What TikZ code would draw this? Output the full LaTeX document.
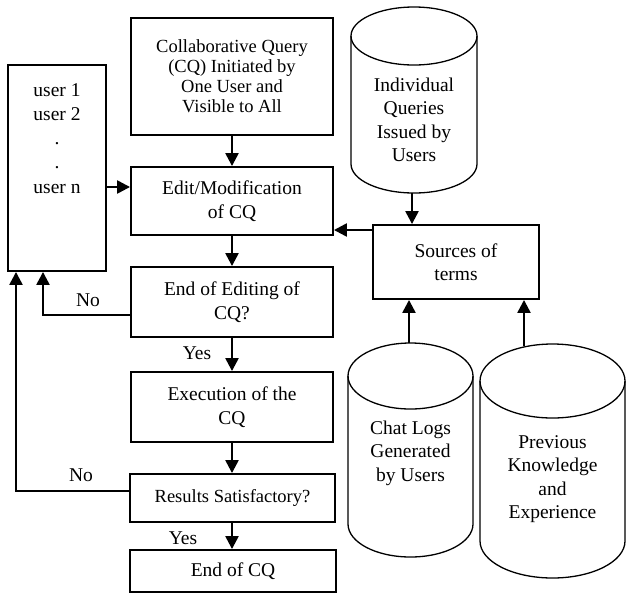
\documentclass[tikz,border=0pt]{standalone}
\usepackage{fontspec}
\setmainfont{Liberation Serif}
\newfontfamily\tnr{Liberation Serif}
\usetikzlibrary{arrows.meta}
\begin{document}
\begin{tikzpicture}[x=1pt,y=-1pt,
  txt/.style={font=\tnr\fontsize{19.5}{23.5}\selectfont},
  box/.style={draw, line width=1.9pt, align=center, inner sep=0pt, txt},
  arr/.style={line width=2.4pt, -{Triangle[width=13pt,length=13pt]}},
  lbl/.style={inner sep=0pt, txt},
  cyl/.style={line width=1.3pt},
  cyltext/.style={align=center, inner sep=0pt, txt}]
\useasboundingbox (0,0) rectangle (626,595);

% boxes
\node[box, minimum width=98pt, minimum height=206pt] (users) at (57,168) {};
\node[lbl, align=center, anchor=north, font=\tnr\fontsize{19.5}{24.3}\selectfont] (userstext) at (57,83) {user 1\\user 2\\.\\.\\user n};
\node[box, minimum width=202pt, minimum height=117pt, font=\tnr\fontsize{18.5}{20}\selectfont] (cq) at (232,76.5)
  {Collaborative Query\\(CQ) Initiated by\\One User and\\Visible to All};
\node[box, minimum width=202pt, minimum height=68pt] (edit) at (232,201) {Edit/Modification\\of CQ};
\node[box, minimum width=202pt, minimum height=70pt] (endedit) at (232,302) {End of Editing of\\CQ?};
\node[box, minimum width=202pt, minimum height=70pt] (exec) at (232,407) {Execution of the\\CQ};
\node[box, minimum width=205pt, minimum height=48pt, font=\tnr\fontsize{18.5}{22}\selectfont] (results) at (232.5,498) {Results Satisfactory?};
\node[box, minimum width=206pt, minimum height=42pt] (endcq) at (233,571) {End of CQ};
\node[box, minimum width=166pt, minimum height=74pt] (sources) at (456,262) {Sources of\\terms};

% cylinders
\draw[cyl] (414,36) ellipse [x radius=63, y radius=29];
\draw[cyl] (351,36) -- (351,164) arc [start angle=180, end angle=0, x radius=63, y radius=29] -- (477,36);
\node[cyltext] (iq) at (414,120) {Individual\\Queries\\Issued by\\Users};
\coordinate (iqb) at (412,193);

\draw[cyl] (410.5,376) ellipse [x radius=62.5, y radius=33];
\draw[cyl] (348,376) -- (348,524) arc [start angle=180, end angle=0, x radius=62.5, y radius=33] -- (473,376);
\node[cyltext] (chat) at (410.5,453) {Chat Logs\\Generated\\by Users};
\coordinate (chatt) at (409,343);

\draw[cyl] (552.5,381) ellipse [x radius=72.5, y radius=37];
\draw[cyl] (480,381) -- (480,541) arc [start angle=180, end angle=0, x radius=72.5, y radius=37] -- (625,381);
\node[cyltext] (prev) at (552.5,479) {Previous\\Knowledge\\and\\Experience};
\coordinate (prevt) at (524,346);

% connectors
\draw[arr] (cq.south) -- (edit.north);
\draw[arr] (edit.south) -- (endedit.north);
\draw[arr] (endedit.south) -- (exec.north);
\draw[arr] (exec.south) -- (results.north -| exec.south);
\draw[arr] (results.south -| exec.south) -- (endcq.north -| exec.south);

\coordinate (uy) at (0,187);
\draw[arr] (users.east |- uy) -- (edit.west |- uy);
\coordinate (sy) at (0,230);
\draw[arr] (sources.west |- sy) -- (edit.east |- sy);
\draw[arr] (iqb) -- (sources.north -| iqb);
\draw[arr] (chatt) -- (sources.south -| chatt);
\draw[arr] (prevt) -- (sources.south -| prevt);

\coordinate (n1) at (43,315);
\draw[arr] (endedit.west |- n1) -- (n1) -- (users.south -| n1);
\coordinate (n2) at (16,491);
\draw[arr] (results.west |- n2) -- (n2) -- (users.south -| n2);

% labels
\node[lbl] (no1) at (88,300) {No};
\node[lbl] (yes1) at (197,353) {Yes};
\node[lbl] (no2) at (81,475) {No};
\node[lbl] (yes2) at (183,538) {Yes};
\end{tikzpicture}
\end{document}
